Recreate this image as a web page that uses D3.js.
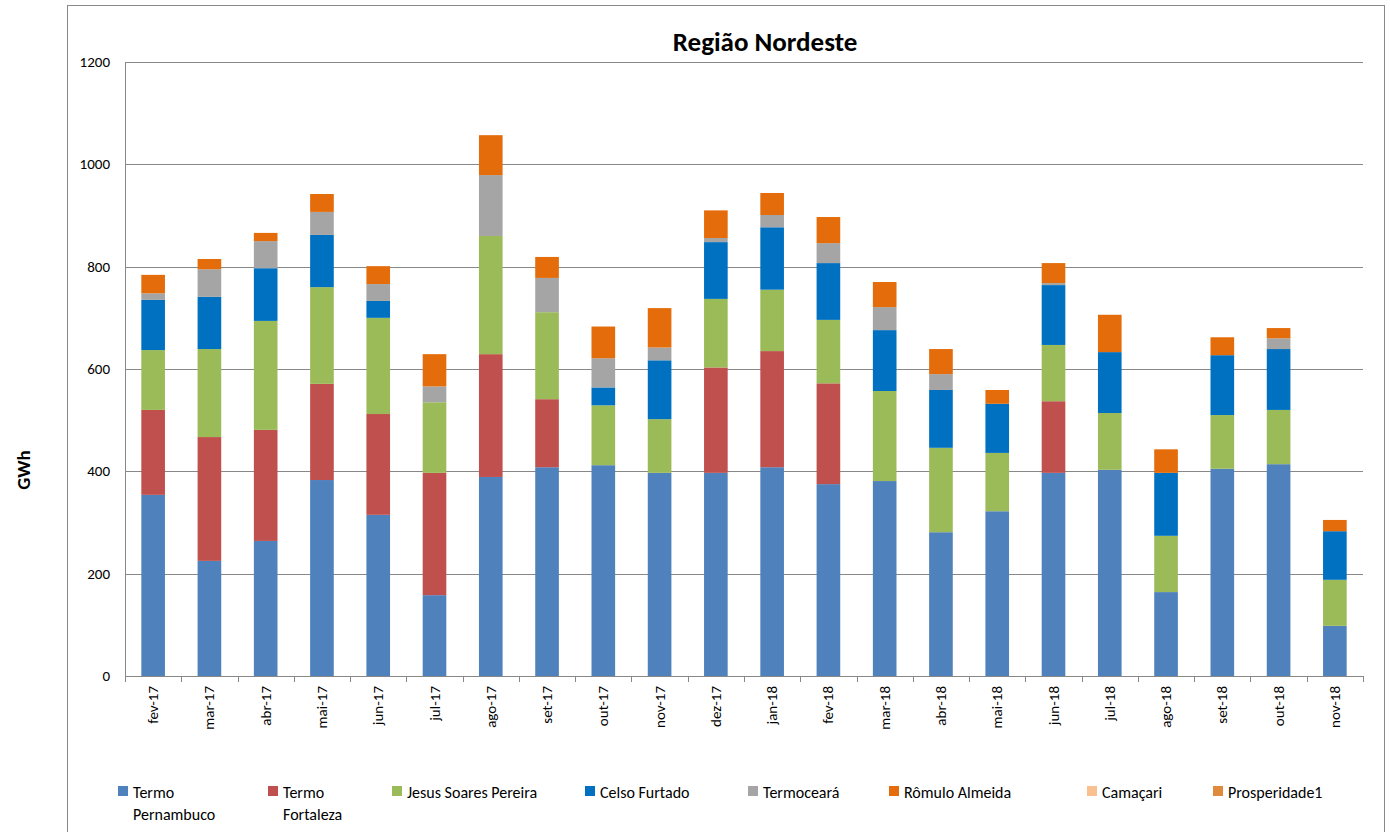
<!DOCTYPE html>
<html><head><meta charset="utf-8">
<script src="https://cdn.jsdelivr.net/npm/d3@7"></script>
<style>body{margin:0;background:#fff;font-family:Calibri,Carlito,"Liberation Sans",Arial,sans-serif}</style>
</head><body><svg id="chart" width="1390" height="832"></svg>
<script>
var months = ["fev-17","mar-17","abr-17","mai-17","jun-17","jul-17","ago-17","set-17","out-17","nov-17","dez-17","jan-18","fev-18","mar-18","abr-18","mai-18","jun-18","jul-18","ago-18","set-18","out-18","nov-18"];
var seriesNames = ["Termo Pernambuco","Termo Fortaleza","Jesus Soares Pereira","Celso Furtado","Termoceará","Rômulo Almeida","Camaçari","Prosperidade1"];
var colors = ["#4F81BD","#C0504D","#9BBB59","#0070C0","#A5A5A5","#E46C0A","#FAC090","#E08A3C"];
var termoPernambuco = [354,225,264,383,315,158,389,408,412,397,397,408,375,381,281,322,397,403,164,405,414,98];
var termoFortaleza  = [166,242,217,188,197,239,240,133,0,0,206,227,197,0,0,0,140,0,0,0,0,0];
var jesusSoares     = [117,172,213,189,188,138,231,170,117,105,134,120,124,176,165,114,110,111,110,105,106,90];
var celsoFurtado    = [98,102,103,102,33,0,0,0,35,115,111,122,111,119,113,96,117,119,123,117,119,95];
var termoceara      = [13,54,53,45,33,31,119,67,57,25,8,24,39,45,31,0,4,0,0,0,21,0];
var romuloAlmeida   = [36,20,16,35,35,63,78,41,62,77,54,43,51,49,49,27,39,73,46,35,20,22];
var camacari        = [0,0,0,0,0,0,0,0,0,0,0,0,0,0,0,0,0,0,0,0,0,0];
var prosperidade1   = [0,0,0,0,0,0,0,0,0,0,0,0,0,0,0,0,0,0,0,0,0,0];
var yTicks = [0,200,400,600,800,1000,1200];

var allSeries = [termoPernambuco,termoFortaleza,jesusSoares,celsoFurtado,termoceara,romuloAlmeida,camacari,prosperidade1];
var rows = months.map(function(m,i){
	var r = {month:m};
	seriesNames.forEach(function(s,k){ r[s] = allSeries[k][i]; });
	return r;
});
var stacked = d3.stack().keys(seriesNames)(rows);

var svg = d3.select("#chart");
svg.append("rect").attr("x",67.5).attr("y",5.5).attr("width",1317).attr("height",840)
	.attr("fill","none").attr("stroke","#888").attr("stroke-width",1);

var plotL = 125, plotR = 1363, plotT = 62, plotB = 676;
var x = d3.scaleBand().domain(months).range([plotL,plotR]).paddingInner(0.58).paddingOuter(0.29);
var y = d3.scaleLinear().domain([0,1200]).range([plotB,plotT]);

//gridlines
svg.selectAll(".grid").data(yTicks).enter().append("line")
	.attr("x1",plotL).attr("x2",plotR)
	.attr("y1",function(d){return Math.round(y(d))+0.5}).attr("y2",function(d){return Math.round(y(d))+0.5})
	.attr("stroke","#888").attr("stroke-width",1);
svg.append("line").attr("x1",plotL+0.5).attr("x2",plotL+0.5).attr("y1",plotT).attr("y2",plotB).attr("stroke","#888");
svg.selectAll(".ytxt").data(yTicks).enter().append("text")
	.attr("x",plotL-15).attr("y",function(d){return y(d)+5})
	.attr("text-anchor","end").attr("font-size","15px").text(function(d){return d});

//x ticks
svg.selectAll(".xtick").data(months.concat(["end"])).enter().append("line")
	.attr("x1",function(d,i){return Math.round(plotL+i*x.step())+0.5}).attr("x2",function(d,i){return Math.round(plotL+i*x.step())+0.5})
	.attr("y1",plotB).attr("y2",plotB+6).attr("stroke","#888");
svg.selectAll(".xtxt").data(months).enter().append("text")
	.attr("transform",function(d){return "translate("+(x(d)+x.bandwidth()/2+5)+","+(plotB+10)+") rotate(-90)"})
	.attr("text-anchor","end").attr("font-size","15px").text(function(d){return d});

//bars
svg.selectAll(".layer").data(stacked).enter().append("g")
	.attr("fill",function(d,i){return colors[i]})
	.selectAll("rect").data(function(d){return d}).enter().append("rect")
	.attr("x",function(d){return x(d.data.month)})
	.attr("width",x.bandwidth())
	.attr("y",function(d){return y(d[1])})
	.attr("height",function(d){return y(d[0])-y(d[1])});

svg.append("text").attr("x",765).attr("y",51).attr("text-anchor","middle")
	.attr("font-size","27px").attr("font-weight","bold").text("Região Nordeste");
svg.append("text").attr("transform","translate(30,470) rotate(-90)").attr("text-anchor","middle")
	.attr("font-size","19px").attr("font-weight","bold").text("GWh");

//legend
var legX = [118,268,392,585,748,889,1087,1213];
var legLines = [["Termo","Pernambuco"],["Termo","Fortaleza"],["Jesus Soares Pereira"],["Celso Furtado"],["Termoceará"],["Rômulo Almeida"],["Camaçari"],["Prosperidade1"]];
var leg = svg.selectAll(".leg").data(seriesNames).enter().append("g")
	.attr("transform",function(d,i){return "translate("+legX[i]+",786)"});
leg.append("rect").attr("width",10).attr("height",10).attr("fill",function(d,i){return colors[i]});
leg.append("text").attr("x",15).attr("y",12).attr("font-size","16px").each(function(d,i){
	var t = d3.select(this);
	legLines[i].forEach(function(l,j){
		t.append("tspan").attr("x",15).attr("dy",j? 22:0).text(l);
	});
});
</script></body></html>
